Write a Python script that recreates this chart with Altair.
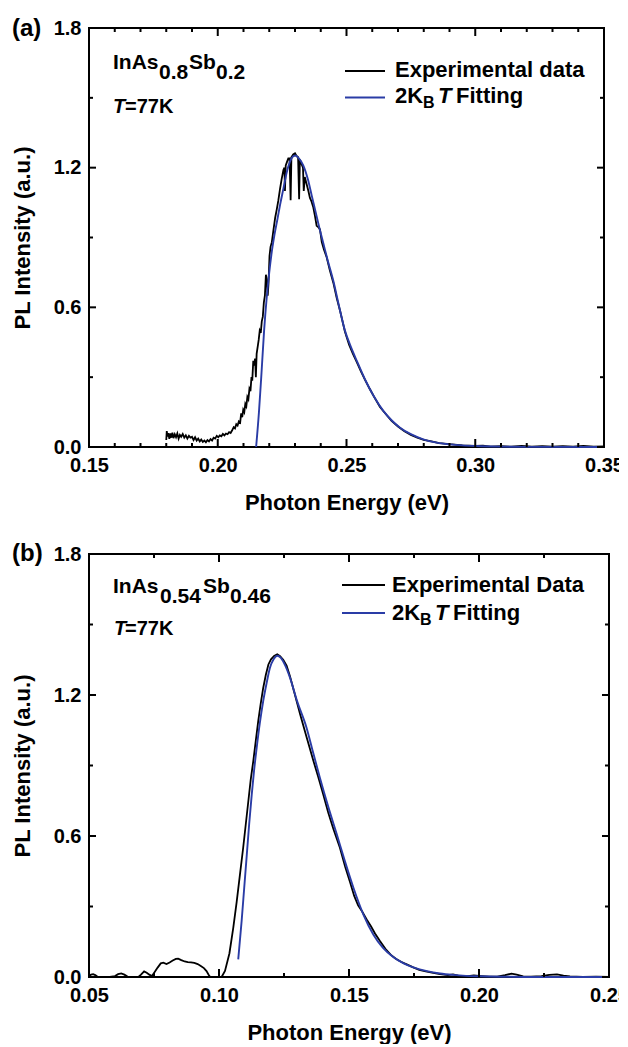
import altair as alt
import pandas as pd

# ---------------- Panel (a): InAs0.8Sb0.2 ----------------
a_exp_E = [0.1800, 0.1802, 0.1805, 0.1808, 0.1812, 0.1816, 0.1820, 0.1824, 0.1828, 0.1833,
           0.1838, 0.1843, 0.1848, 0.1853, 0.1858, 0.1864, 0.1870, 0.1876, 0.1882, 0.1888,
           0.1894, 0.1900, 0.1906, 0.1912, 0.1918, 0.1924, 0.1930, 0.1936, 0.1942, 0.1948,
           0.1954, 0.1960, 0.1966, 0.1972, 0.1978, 0.1984, 0.1990, 0.1996, 0.2002, 0.2008,
           0.2014, 0.2020, 0.2026, 0.2032, 0.2038, 0.2044, 0.2050, 0.2056, 0.2062, 0.2067,
           0.2072, 0.2077, 0.2082, 0.2087, 0.2091, 0.2095, 0.2099, 0.2103, 0.2107, 0.2111,
           0.2115, 0.2119, 0.2123, 0.2127, 0.2131, 0.2134, 0.2138, 0.2141, 0.2145, 0.2148,
           0.2151, 0.2155, 0.2159, 0.2163, 0.2167, 0.2171, 0.2175, 0.2179, 0.2183, 0.2187,
           0.2190, 0.2194, 0.2197, 0.2201, 0.2205, 0.2210, 0.2216, 0.2223, 0.2229, 0.2235,
           0.2242, 0.2248, 0.2255, 0.2259, 0.2261, 0.2264, 0.2269, 0.2274, 0.2279, 0.2283,
           0.2286, 0.2293, 0.2300, 0.2306, 0.2312, 0.2316, 0.2319, 0.2326, 0.2331, 0.2334,
           0.2338, 0.2345, 0.2352, 0.2358, 0.2364, 0.2371, 0.2378, 0.2384, 0.2390, 0.2397,
           0.2404, 0.2412, 0.2423, 0.2435, 0.2449, 0.2462, 0.2475, 0.2494, 0.2510, 0.2525,
           0.2540, 0.2556, 0.2572, 0.2590, 0.2610, 0.2630, 0.2650, 0.2675, 0.2700, 0.2725,
           0.2750, 0.2775, 0.2800, 0.2830, 0.2860, 0.2900, 0.2950, 0.3000, 0.3030, 0.3060,
           0.3100, 0.3140, 0.3180, 0.3220, 0.3260, 0.3300, 0.3340, 0.3380, 0.3420, 0.3460,
           0.3500]
a_exp_I = [0.030, 0.068, 0.045, 0.060, 0.035, 0.058, 0.040, 0.062, 0.038, 0.055,
           0.042, 0.058, 0.036, 0.052, 0.044, 0.056, 0.040, 0.050, 0.036, 0.048,
           0.040, 0.044, 0.030, 0.042, 0.028, 0.036, 0.024, 0.032, 0.022, 0.028,
           0.020, 0.030, 0.024, 0.034, 0.028, 0.040, 0.036, 0.048, 0.042, 0.050,
           0.046, 0.056, 0.050, 0.058, 0.055, 0.064, 0.060, 0.072, 0.085, 0.080,
           0.098, 0.092, 0.110, 0.105, 0.145, 0.128, 0.160, 0.150, 0.185, 0.175,
           0.215, 0.205, 0.250, 0.240, 0.300, 0.285, 0.370, 0.350, 0.380, 0.300,
           0.400, 0.430, 0.460, 0.500, 0.490, 0.540, 0.560, 0.620, 0.650, 0.740,
           0.720, 0.650, 0.700, 0.820, 0.860, 0.880, 0.930, 0.985, 1.020, 1.057,
           1.110, 1.150, 1.190, 1.200, 1.100, 1.210, 1.225, 1.240, 1.240, 1.060,
           1.245, 1.257, 1.262, 1.250, 1.245, 1.064, 1.235, 1.214, 1.200, 1.100,
           1.160, 1.130, 1.100, 1.070, 1.055, 1.030, 0.990, 0.950, 0.945, 0.935,
           0.880, 0.850, 0.815, 0.760, 0.705, 0.640, 0.585, 0.495, 0.440, 0.400,
           0.365, 0.325, 0.288, 0.250, 0.210, 0.172, 0.145, 0.112, 0.088, 0.068,
           0.052, 0.040, 0.031, 0.024, 0.017, 0.012, 0.007, 0.005, 0.006, 0.002,
           0.004, 0.001, 0.005, 0.002, 0.004, 0.001, 0.004, 0.002, 0.005, 0.001,
           0.003]

a_fit_E = [0.2149, 0.2160, 0.2170, 0.2180, 0.2190, 0.2200, 0.2210, 0.2220, 0.2232, 0.2242,
           0.2255, 0.2268, 0.2280, 0.2292, 0.2302, 0.2315, 0.2332, 0.2350, 0.2365, 0.2380,
           0.2395, 0.2410, 0.2425, 0.2449, 0.2470, 0.2494, 0.2517, 0.2540, 0.2572, 0.2605,
           0.2643, 0.2675, 0.2708, 0.2750, 0.2798, 0.2850, 0.2902, 0.2950, 0.3006, 0.3100,
           0.3200, 0.3500]
a_fit_I = [0.000, 0.150, 0.320, 0.500, 0.640, 0.750, 0.840, 0.910, 0.980, 1.040,
           1.110, 1.180, 1.225, 1.248, 1.252, 1.240, 1.210, 1.150, 1.080, 1.010,
           0.940, 0.875, 0.810, 0.713, 0.610, 0.500, 0.430, 0.370, 0.290, 0.220,
           0.155, 0.115, 0.083, 0.055, 0.033, 0.019, 0.0115, 0.007, 0.004, 0.0015,
           0.0005, 0.000]

# ---------------- Panel (b): InAs0.54Sb0.46 ----------------
b_exp_E = [0.0500, 0.0508, 0.0516, 0.0524, 0.0532, 0.0545, 0.0580, 0.0600, 0.0612, 0.0624,
           0.0636, 0.0648, 0.0660, 0.0690, 0.0700, 0.0712, 0.0722, 0.0732, 0.0742, 0.0752,
           0.0764, 0.0776, 0.0786, 0.0798, 0.0810, 0.0822, 0.0834, 0.0843, 0.0855, 0.0868,
           0.0880, 0.0892, 0.0905, 0.0918, 0.0930, 0.0942, 0.0952, 0.0960, 0.0966, 0.1010,
           0.1023, 0.1040, 0.1055, 0.1068, 0.1081, 0.1093, 0.1103, 0.1113, 0.1122, 0.1132,
           0.1142, 0.1151, 0.1160, 0.1170, 0.1180, 0.1190, 0.1200, 0.1212, 0.1224, 0.1235,
           0.1247, 0.1260, 0.1273, 0.1290, 0.1312, 0.1337, 0.1363, 0.1382, 0.1401, 0.1420,
           0.1440, 0.1465, 0.1485, 0.1505, 0.1520, 0.1535, 0.1550, 0.1568, 0.1585, 0.1600,
           0.1619, 0.1640, 0.1660, 0.1680, 0.1700, 0.1722, 0.1745, 0.1770, 0.1795, 0.1824,
           0.1850, 0.1880, 0.1900, 0.1920, 0.1950, 0.1980, 0.2010, 0.2040, 0.2070, 0.2100,
           0.2125, 0.2145, 0.2170, 0.2200, 0.2240, 0.2270, 0.2300, 0.2325, 0.2350, 0.2400,
           0.2450, 0.2500]
b_exp_I = [0.004, 0.010, 0.012, 0.008, 0.002, 0.000, 0.000, 0.004, 0.012, 0.015,
           0.010, 0.002, 0.000, 0.000, 0.010, 0.024, 0.018, 0.010, 0.004, 0.020,
           0.040, 0.058, 0.061, 0.055, 0.062, 0.070, 0.077, 0.078, 0.072, 0.066,
           0.063, 0.062, 0.060, 0.055, 0.047, 0.038, 0.025, 0.010, 0.000, 0.000,
           0.026, 0.100, 0.210, 0.320, 0.440, 0.550, 0.650, 0.750, 0.840, 0.920,
           1.010, 1.090, 1.160, 1.230, 1.285, 1.330, 1.352, 1.366, 1.373, 1.365,
           1.350, 1.325, 1.280, 1.210, 1.118, 1.020, 0.920, 0.850, 0.777, 0.700,
           0.630, 0.550, 0.470, 0.400, 0.345, 0.305, 0.280, 0.245, 0.215, 0.185,
           0.153, 0.120, 0.095, 0.078, 0.065, 0.054, 0.042, 0.030, 0.024, 0.018,
           0.012, 0.008, 0.011, 0.006, 0.003, 0.007, 0.004, 0.001, 0.002, 0.008,
           0.014, 0.010, 0.003, 0.002, 0.004, 0.009, 0.011, 0.006, 0.003, 0.000,
           0.001, 0.000]

b_fit_E = [0.1074, 0.1087, 0.1097, 0.1107, 0.1116, 0.1126, 0.1135, 0.1145, 0.1157, 0.1170,
           0.1183, 0.1196, 0.1210, 0.1224, 0.1238, 0.1255, 0.1273, 0.1300, 0.1337, 0.1362,
           0.1388, 0.1420, 0.1453, 0.1485, 0.1517, 0.1555, 0.1594, 0.1630, 0.1670, 0.1710,
           0.1750, 0.1800, 0.1850, 0.1900, 0.1950, 0.2000, 0.2100, 0.2200, 0.2500]
b_fit_I = [0.075, 0.238, 0.380, 0.522, 0.650, 0.777, 0.880, 0.976, 1.080, 1.174,
           1.250, 1.316, 1.352, 1.367, 1.358, 1.325, 1.274, 1.175, 1.060, 0.955,
           0.848, 0.725, 0.607, 0.490, 0.380, 0.267, 0.180, 0.125, 0.085, 0.058,
           0.040, 0.025, 0.015, 0.009, 0.005, 0.003, 0.001, 0.000, 0.000]

# ---------------- Axis ticks ----------------
a_x_major = [0.15, 0.20, 0.25, 0.30, 0.35]
a_x_minor = [0.16, 0.17, 0.18, 0.19, 0.21, 0.22, 0.23, 0.24,
             0.26, 0.27, 0.28, 0.29, 0.31, 0.32, 0.33, 0.34]
b_x_major = [0.05, 0.10, 0.15, 0.20, 0.25]
b_x_minor = [0.075, 0.125, 0.175, 0.225]
y_major = [0.0, 0.6, 1.2, 1.8]
y_minor = [0.3, 0.9, 1.5]

FONT = "Liberation Sans"
BLUE = "#2a3ca6"
DUMMY = pd.DataFrame({"_": [0]})


def txt(s, x, y, size=20, italic=False, color="black", align="left"):
    return alt.Chart(DUMMY).mark_text(
        text=s, x=x, y=y, font=FONT, fontSize=size, fontWeight="bold",
        fontStyle="italic" if italic else "normal", color=color,
        align=align, baseline="alphabetic")


def panel(expE, expI, fitE, fitI, xdom, xmaj, xmin, W, H, xfmt,
          letter, comp, Tpos, leg):
    xs = alt.Scale(domain=xdom, nice=False, zero=False, padding=0)
    ys = alt.Scale(domain=[0, 1.8], nice=False, zero=False, padding=0)
    exp_df = pd.DataFrame({"E": expE, "I": expI})
    fit_df = pd.DataFrame({"E": fitE, "I": fitI})

    exp_line = alt.Chart(exp_df).mark_line(color="black", strokeWidth=1.8).encode(
        x=alt.X("E:Q", scale=xs, title="Photon Energy (eV)",
                axis=alt.Axis(values=xmaj, format=xfmt, labelFlush=False)),
        y=alt.Y("I:Q", scale=ys, title="PL Intensity (a.u.)",
                axis=alt.Axis(values=y_major, format=".1f", labelFlush=False)),
    )
    fit_line = alt.Chart(fit_df).mark_line(color=BLUE, strokeWidth=1.9,
                                           interpolate="monotone").encode(
        x=alt.X("E:Q", scale=xs), y=alt.Y("I:Q", scale=ys))

    layers = [exp_line, fit_line]
    # inward ticks on all four sides
    for vals, L in ((xmaj, 8), (xmin, 4)):
        tdf = pd.DataFrame({"E": vals})
        layers.append(alt.Chart(tdf).mark_rule(color="black", strokeWidth=2).encode(
            x=alt.X("E:Q", scale=xs), y=alt.value(H), y2=alt.value(H - L)))
        layers.append(alt.Chart(tdf).mark_rule(color="black", strokeWidth=2).encode(
            x=alt.X("E:Q", scale=xs), y=alt.value(0), y2=alt.value(L)))
    for vals, L in ((y_major, 7), (y_minor, 4)):
        tdf = pd.DataFrame({"I": vals})
        layers.append(alt.Chart(tdf).mark_rule(color="black", strokeWidth=2).encode(
            y=alt.Y("I:Q", scale=ys), x=alt.value(0), x2=alt.value(L)))
        layers.append(alt.Chart(tdf).mark_rule(color="black", strokeWidth=2).encode(
            y=alt.Y("I:Q", scale=ys), x=alt.value(W), x2=alt.value(W - L)))

    # panel letter
    layers.append(txt(letter[0], letter[1], letter[2], size=24))
    # composition label with subscripts
    for s, x, y in comp:
        layers.append(txt(s, x, y, size=21))
    # T=77K
    layers.append(txt("T", Tpos[0], Tpos[2], size=20, italic=True))
    layers.append(txt("=77K", Tpos[1], Tpos[2], size=20))
    # legend
    lx0, lx1, ly1, ly2, tx, tb1, tb2, exp_label = leg
    layers.append(alt.Chart(DUMMY).mark_rule(color="black", strokeWidth=1.8).encode(
        x=alt.value(lx0), x2=alt.value(lx1), y=alt.value(ly1)))
    layers.append(alt.Chart(DUMMY).mark_rule(color=BLUE, strokeWidth=1.9).encode(
        x=alt.value(lx0), x2=alt.value(lx1), y=alt.value(ly2)))
    layers.append(txt(exp_label, tx, tb1, size=22))
    layers.append(txt("2K", tx, tb2, size=22))
    layers.append(txt("B", tx + 28, tb2 + 5, size=16))
    layers.append(txt("T", tx + 43, tb2, size=22, italic=True))
    layers.append(txt("Fitting", tx + 61, tb2, size=22))

    return alt.layer(*layers).properties(width=W, height=H)


pa = panel(a_exp_E, a_exp_I, a_fit_E, a_fit_I, [0.15, 0.35], a_x_major, a_x_minor,
           515, 419, ".2f",
           ("(a)", -77, 8),
           [("InAs", 24, 41), ("0.8", 70, 51), ("Sb", 100, 41), ("0.2", 127, 51)],
           (24, 36, 85),
           (256, 296, 43, 69.5, 306, 49, 75, "Experimental data"))

pb = panel(b_exp_E, b_exp_I, b_fit_E, b_fit_I, [0.05, 0.25], b_x_major, b_x_minor,
           520, 423, ".2f",
           ("(b)", -77, 7),
           [("InAs", 24, 39), ("0.54", 71, 49), ("Sb", 114, 39), ("0.46", 141, 49)],
           (25, 36, 81),
           (253, 296, 31, 59, 303, 38, 66, "Experimental Data"))

chart = alt.vconcat(pa, pb, spacing=107, bounds="flush").properties(
    padding={"left": 2, "top": 8, "right": -11, "bottom": 0}
).configure_view(
    stroke="black", strokeWidth=2
).configure_axis(
    ticks=False, domain=False, grid=False,
    labelFont=FONT, labelFontSize=20, labelFontWeight="bold", labelColor="black",
    titleFont=FONT, titleFontSize=22, titleFontWeight="bold", titleColor="black",
    labelPadding=8,
).configure_axisY(
    titlePadding=19
).configure_axisX(
    titlePadding=17
)

chart.save("out.html", embed_options={"renderer": "svg", "actions": False})
